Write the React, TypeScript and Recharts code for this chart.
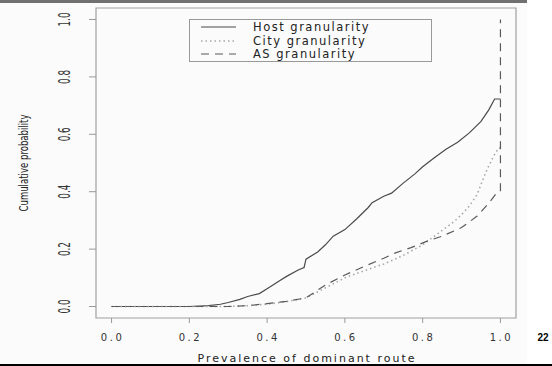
import { LineChart, Line, XAxis, YAxis, ReferenceArea } from 'recharts';

const hostX = [0, 0.1, 0.2, 0.25, 0.28, 0.3, 0.33, 0.35, 0.38, 0.4, 0.43, 0.45, 0.48, 0.495, 0.5, 0.53, 0.55, 0.57, 0.6, 0.63, 0.66, 0.67, 0.7, 0.72, 0.75, 0.78, 0.8, 0.83, 0.86, 0.89, 0.92, 0.95, 0.97, 0.985, 1.0];
const hostY = [0, 0, 0, 0.003, 0.008, 0.014, 0.025, 0.035, 0.045, 0.062, 0.088, 0.105, 0.127, 0.136, 0.165, 0.19, 0.215, 0.245, 0.268, 0.305, 0.345, 0.362, 0.384, 0.395, 0.43, 0.462, 0.487, 0.518, 0.548, 0.572, 0.605, 0.645, 0.685, 0.723, 0.723];

const cityX = [0, 0.3, 0.35, 0.4, 0.45, 0.5, 0.55, 0.6, 0.65, 0.7, 0.75, 0.8, 0.85, 0.88, 0.9, 0.92, 0.94, 0.96, 0.97, 0.985, 0.995, 1.0];
const cityY = [0, 0, 0.003, 0.008, 0.017, 0.03, 0.065, 0.1, 0.125, 0.148, 0.178, 0.215, 0.265, 0.295, 0.32, 0.35, 0.39, 0.46, 0.49, 0.53, 0.552, 0.552];

const asX = [0, 0.3, 0.35, 0.4, 0.45, 0.5, 0.55, 0.6, 0.65, 0.7, 0.73, 0.77, 0.81, 0.85, 0.9, 0.94, 0.97, 0.99, 1.0, 1.0];
const asY = [0, 0, 0.003, 0.01, 0.018, 0.03, 0.075, 0.11, 0.14, 0.168, 0.187, 0.205, 0.227, 0.245, 0.275, 0.315, 0.36, 0.395, 0.401, 1.0];

const xTicks = [0, 0.2, 0.4, 0.6, 0.8, 1.0];
const yTicks = [0, 0.2, 0.4, 0.6, 0.8, 1.0];

const SERIES = [
  { name: 'Host granularity', xs: hostX, ys: hostY, color: '#4a4a4a', dash: undefined, width: 1.2 },
  { name: 'City granularity', xs: cityX, ys: cityY, color: '#a8a8a8', dash: '1.5 3', width: 1.6 },
  { name: 'AS granularity', xs: asX, ys: asY, color: '#5a5a5a', dash: '8 6', width: 1.2 },
];

const toPoints = (xs: number[], ys: number[]) => xs.map((x, i) => ({ x, y: ys[i] }));

const WIDE = '"DejaVu Sans", sans-serif';
const NARROW = '"Liberation Sans Narrow", "DejaVu Sans Condensed", sans-serif';

const XTick = (props: any) => {
  const { x, y, payload } = props;
  return (
    <text x={x + 1} y={y + 12} textAnchor="middle" dominantBaseline="central"
      fontFamily={WIDE} fontSize={10} letterSpacing={2.5} fill="#333">
      {Number(payload.value).toFixed(1)}
    </text>
  );
};

const YTick = (props: any) => {
  const { x, y, payload } = props;
  const cx = x - 22;
  return (
    <text x={cx} y={y} textAnchor="middle" dominantBaseline="central"
      transform={`rotate(-90 ${cx} ${y})`} fontFamily={NARROW} fontSize={15}
      textLength={14} lengthAdjust="spacingAndGlyphs" fill="#333">
      {Number(payload.value).toFixed(1)}
    </text>
  );
};

const YLabel = (props: any) => {
  const vb = props.viewBox || { x: 10, y: 8, width: 86, height: 310 };
  const cx = vb.x + 13;
  const cy = vb.y + vb.height / 2;
  return (
    <text x={cx} y={cy} textAnchor="middle" dominantBaseline="central"
      transform={`rotate(-90 ${cx} ${cy})`} fontFamily={NARROW} fontSize={13}
      textLength={97} lengthAdjust="spacingAndGlyphs" fill="#222">
      Cumulative probability
    </text>
  );
};

function App() {
  return (
    <div style={{ position: 'absolute', left: 0, top: 0, width: 552, height: 366, background: '#fbfbfb', overflow: 'hidden' }}>
      <div style={{ position: 'absolute', left: 527, top: 0, width: 25, height: 366, background: '#ffffff' }} />
      <div style={{ position: 'absolute', left: 0, top: 0, width: 527, height: 3, background: '#707070' }} />
      <LineChart width={552} height={366} margin={{ top: 8, right: 36, left: 10, bottom: 8 }}>
        <XAxis
          dataKey="x"
          type="number"
          domain={[-0.04, 1.04]}
          ticks={xTicks}
          allowDataOverflow
          axisLine={false}
          tickSize={5}
          tickLine={{ stroke: '#999' }}
          tick={<XTick />}
          height={40}
          interval={0}
        />
        <YAxis
          dataKey="y"
          type="number"
          domain={[-0.04, 1.04]}
          ticks={yTicks}
          allowDataOverflow
          axisLine={false}
          tickSize={7}
          tickLine={{ stroke: '#999' }}
          tick={<YTick />}
          width={86}
          interval={0}
          label={<YLabel />}
        />
        <ReferenceArea x1={-0.04} x2={1.04} y1={-0.04} y2={1.04} fill="none" stroke="#a0a0a0" strokeWidth={1.2} ifOverflow="visible" />
        {SERIES.map((s) => (
          <Line
            key={s.name}
            data={toPoints(s.xs, s.ys)}
            dataKey="y"
            type="linear"
            stroke={s.color}
            strokeWidth={s.width}
            strokeDasharray={s.dash}
            dot={false}
            activeDot={false}
            isAnimationActive={false}
          />
        ))}
      </LineChart>
      <div style={{ position: 'absolute', left: 307, top: 358, transform: 'translate(-50%, -50%)', fontFamily: WIDE, fontSize: 11, letterSpacing: 2, color: '#222', whiteSpace: 'nowrap' }}>
        Prevalence of dominant route
      </div>
      <div style={{ position: 'absolute', left: 189, top: 19, width: 241, height: 41, border: '1px solid #999', background: '#fbfbfb' }}>
        {SERIES.map((s, i) => (
          <div key={s.name} style={{ position: 'absolute', left: 0, top: i * 13.5, height: 14, display: 'flex', alignItems: 'center' }}>
            <svg width={60} height={14} style={{ display: 'block' }}>
              <line x1={11} x2={46} y1={7} y2={7} stroke={s.color} strokeWidth={s.width} strokeDasharray={s.dash} />
            </svg>
            <span style={{ marginLeft: 3, fontFamily: WIDE, fontSize: 11.5, letterSpacing: 1.5, color: '#222', whiteSpace: 'nowrap' }}>{s.name}</span>
          </div>
        ))}
      </div>
      <div style={{ position: 'absolute', left: 543, top: 337, transform: 'translate(-50%, -50%)', fontFamily: '"Liberation Sans", sans-serif', fontWeight: 'bold', fontSize: 10, color: '#000' }}>
        22
      </div>
      <div style={{ position: 'absolute', left: 0, top: 364, width: 552, height: 2, background: '#000' }} />
    </div>
  );
}

export default App;
